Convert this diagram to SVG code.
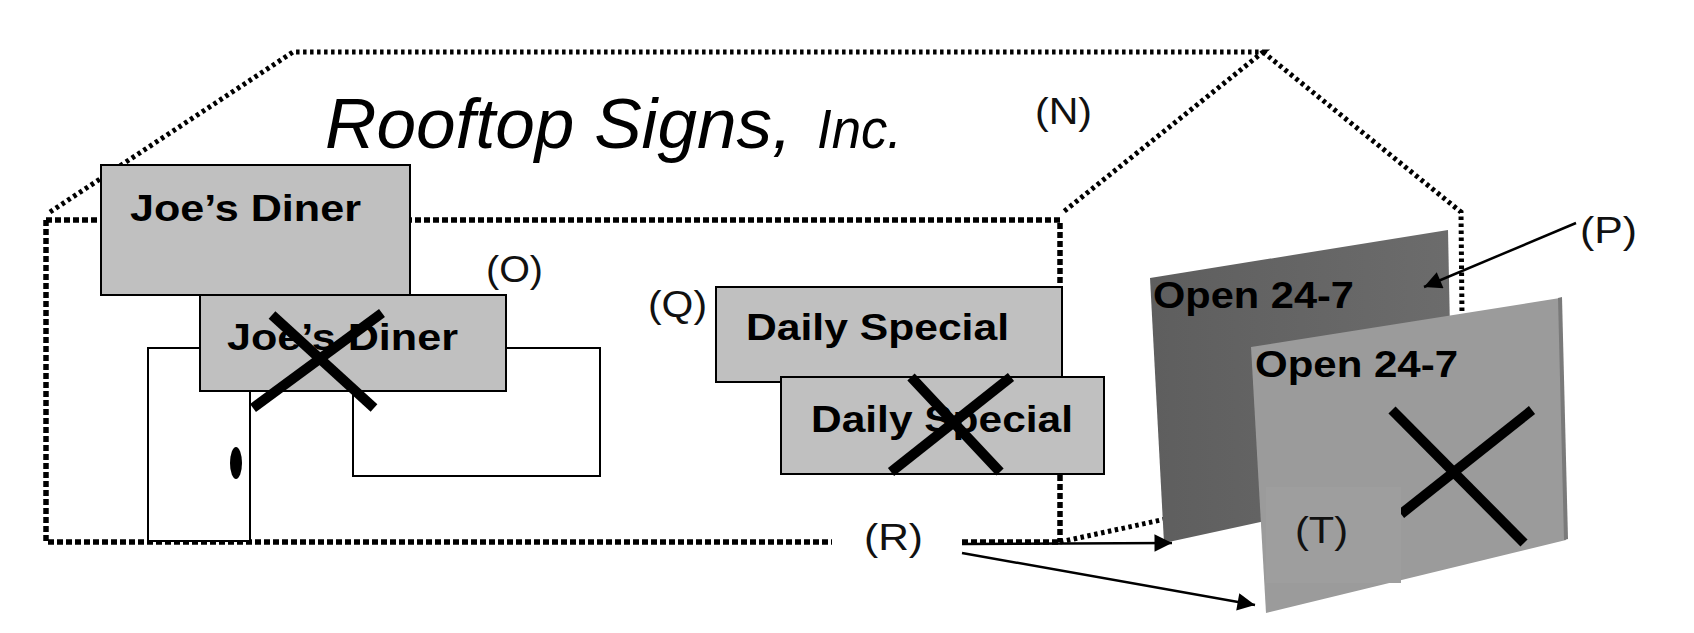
<svg xmlns="http://www.w3.org/2000/svg" width="1694" height="633" viewBox="0 0 1694 633">
<style>
.wall{fill:none;stroke:#000;stroke-width:5.5;stroke-dasharray:6 3}
.roof{fill:none;stroke:#000;stroke-width:5;stroke-dasharray:3.5 3.5}
.box{fill:#c0c0c0;stroke:#000;stroke-width:2}
.thin{fill:#fff;stroke:#000;stroke-width:2}
.xx{stroke:#000;stroke-width:10;stroke-linecap:butt}
.sign{font-family:"Liberation Sans",Arial,sans-serif;font-weight:bold;font-size:37px;fill:#000}
.lbl{font-family:"Liberation Sans",Arial,sans-serif;font-size:37px;fill:#111}
.arr{stroke:#000;stroke-width:2.5;fill:none}
</style>
<defs>
<marker id="ah" viewBox="0 0 10 10" refX="10" refY="5" markerWidth="8" markerHeight="7" markerUnits="strokeWidth" orient="auto">
<path d="M0,0 L10,5 L0,10 z" fill="#000"/>
</marker>
<linearGradient id="gd" x1="0" y1="0" x2="1" y2="0">
<stop offset="0" stop-color="#5e5e5e"/><stop offset="1" stop-color="#6c6c6c"/>
</linearGradient>
</defs>
<rect width="1694" height="633" fill="#fff"/>

<g id="building">
<path class="wall" d="M46,220 H1060 V542 M46,220 V542 H832 M962,542 H1060"/>
<path class="roof" d="M50,212 L293,52 H1263 L1062,213 M1263,52 L1461,212 L1463,420 M1060,542 L1170,518"/>
<text class="lbl" x="1035" y="124" textLength="57" lengthAdjust="spacingAndGlyphs">(N)</text>
<text x="325" y="148" font-family="'Liberation Sans',Arial,sans-serif" font-style="italic" font-size="70" fill="#000" textLength="467" lengthAdjust="spacingAndGlyphs">Rooftop Signs,</text>
<text x="817" y="148" font-family="'Liberation Sans',Arial,sans-serif" font-style="italic" font-size="56" fill="#000" textLength="85" lengthAdjust="spacingAndGlyphs">Inc.</text>
</g>

<g id="door">
<rect class="thin" x="148" y="348" width="102" height="193"/>
<ellipse cx="236" cy="463" rx="6" ry="16" fill="#000"/>
</g>
<g id="window">
<rect class="thin" x="353" y="348" width="247" height="128"/>
</g>

<g id="joes-diner">
<rect class="box" x="101" y="165" width="309" height="130"/>
<text class="sign" x="130" y="221" textLength="231" lengthAdjust="spacingAndGlyphs">Joe’s Diner</text>
</g>
<g id="joes-diner-old">
<rect class="box" x="200" y="295" width="306" height="96"/>
<text class="sign" x="227" y="350" textLength="231" lengthAdjust="spacingAndGlyphs">Joe’s Diner</text>
<line class="xx" x1="272" y1="315" x2="374" y2="408" stroke-width="12"/>
<line class="xx" x1="382" y1="313" x2="253" y2="408" stroke-width="12"/>
<text class="lbl" x="486" y="282" textLength="57" lengthAdjust="spacingAndGlyphs">(O)</text>
</g>

<g id="daily-special">
<rect class="box" x="716" y="287" width="346" height="95"/>
<text class="sign" x="746" y="340" textLength="263" lengthAdjust="spacingAndGlyphs">Daily Special</text>
<text class="lbl" x="648" y="317" textLength="59" lengthAdjust="spacingAndGlyphs">(Q)</text>
</g>
<g id="daily-special-old">
<rect class="box" x="781" y="377" width="323" height="97"/>
<text class="sign" x="811" y="432" textLength="262" lengthAdjust="spacingAndGlyphs">Daily Special</text>
<line class="xx" x1="911" y1="377" x2="1000" y2="472"/>
<line class="xx" x1="1011" y1="377" x2="891" y2="472"/>
</g>

<g id="open-sign">
<polygon points="1150,278 1448,230 1453,480 1164,543" fill="url(#gd)"/>
<text class="sign" x="1153" y="308" font-size="39" textLength="201" lengthAdjust="spacingAndGlyphs">Open 24-7</text>
<text class="lbl" x="1580" y="243" textLength="57" lengthAdjust="spacingAndGlyphs">(P)</text>
</g>
<g id="open-sign-old">
<polygon points="1251,347 1560,298 1566,540 1266,613" fill="#9b9b9b"/>
<polygon points="1558,298 1562,297 1568,539 1564,540" fill="#7a7a7a"/>
<text class="sign" x="1255" y="377" font-size="39" textLength="203" lengthAdjust="spacingAndGlyphs">Open 24-7</text>
<line class="xx" x1="1392" y1="410" x2="1524" y2="543"/>
<line class="xx" x1="1532" y1="410" x2="1401" y2="514"/>
<rect x="1266" y="487" width="135" height="96" fill="#9e9e9e"/>
<text class="lbl" x="1295" y="543" textLength="53" lengthAdjust="spacingAndGlyphs">(T)</text>
</g>

<g id="connectors">
<line class="arr" x1="1576" y1="223" x2="1424" y2="287" marker-end="url(#ah)"/>
<line class="arr" x1="962" y1="544" x2="1172" y2="543" marker-end="url(#ah)"/>
<line class="arr" x1="962" y1="553" x2="1255" y2="605" marker-end="url(#ah)"/>
</g>
<text class="lbl" x="864" y="550" textLength="59" lengthAdjust="spacingAndGlyphs">(R)</text>
</svg>
